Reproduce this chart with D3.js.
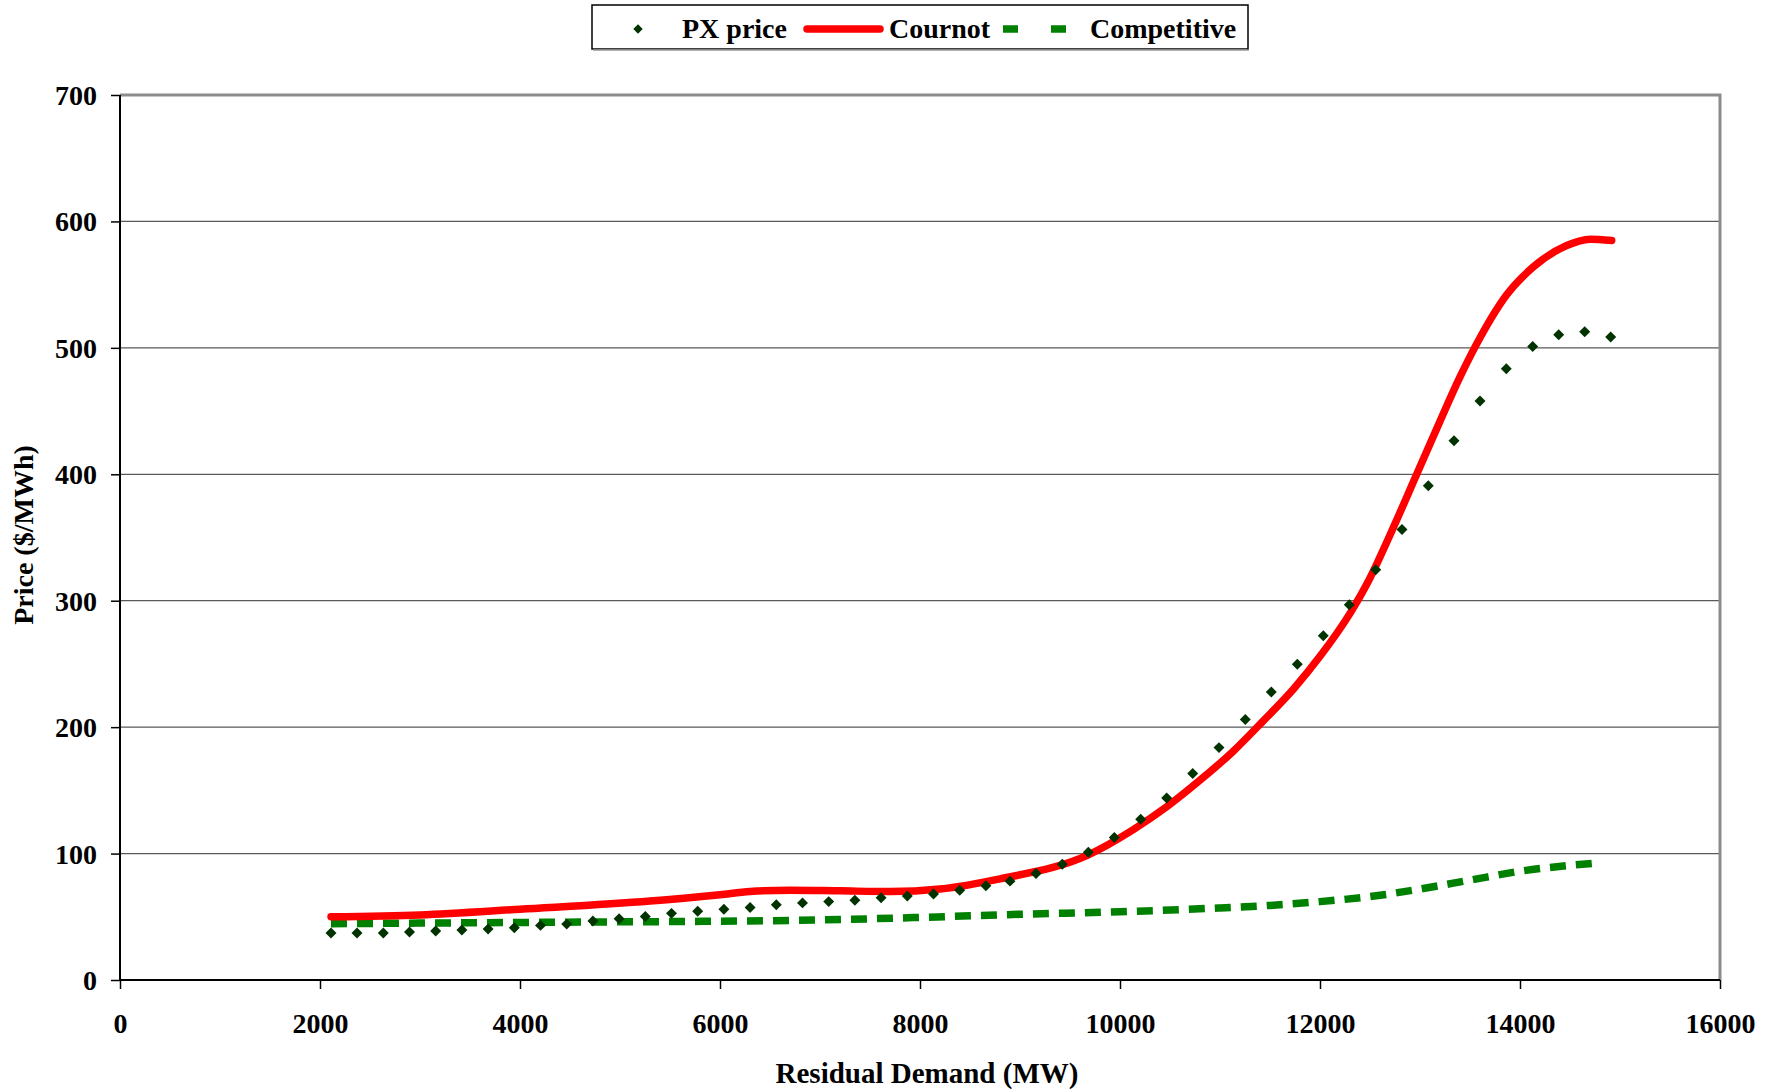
<!DOCTYPE html>
<html><head><meta charset="utf-8">
<script src="https://cdn.jsdelivr.net/npm/d3@7/dist/d3.min.js"></script>
<style>body{margin:0;background:#fff}svg{display:block}</style>
</head><body><svg id="c" width="1780" height="1091"></svg>
<script>
// ---- data ----
const pxDemand = [2110,2370,2633,2895,3157,3419,3681,3943,4205,4467,4729,4991,5253,5515,5777,6039,6301,6563,6825,7087,7349,7611,7873,8135,8397,8659,8900,9160,9423,9683,9943,10207,10467,10727,10990,11253,11513,11773,12033,12293,12557,12820,13083,13340,13600,13863,14127,14387,14647,14907];
const pxPrice = [37.1,37.1,37.1,37.9,38.7,39.5,40.3,41.3,43.2,44.2,46.6,48.5,50.3,52.7,54.3,55.9,57.4,59.5,61,62,63,65,66.5,68,71,74.6,78.2,84.3,91.6,101.1,112.7,127.2,144,163.3,183.8,206,227.8,249.7,272.3,296.8,324.5,356.3,391,426.6,458,483.5,501,510.4,512.8,508.6];
const cournotDemand = [2110,3000,4000,5300,6000,6300,6700,7200,7700,8200,8800,9683,10133,10467,10800,11133,11433,11733,12000,12300,12500,12700,12967,13200,13400,13600,13867,14133,14467,14700,14917];
const cournotPrice = [50,51.5,56,62.4,67.5,70,71,70.5,70,72,80,99,119,137,158,181,205,230,256,290,318,352,400,442,477,508,542,564,581,586,585];
const compDemand = [2110,3000,4000,5000,6000,7000,8000,9000,10000,11000,11500,12000,12600,13000,13500,14000,14760];
const compPrice = [44.5,45,45.5,46,46.5,47.5,49.5,52,54,57,59,62,67,72,79,86,92.5];
const xTicks = [0,2000,4000,6000,8000,10000,12000,14000,16000];
const yTicks = [0,100,200,300,400,500,600,700];
const seriesNames = ["PX price","Cournot","Competitive"];

// ---- layout ----
const svg = d3.select("#c");
const L = 120, R = 1720, T = 95, B = 980;
const x = d3.scaleLinear().domain([0,16000]).range([L,R]);
const y = d3.scaleLinear().domain([0,700]).range([B,T]);
const FONT = "'Liberation Serif','Times New Roman',serif";

// gridlines
svg.append("g").selectAll("line").data(yTicks.filter(d=>d>0 && d<700)).join("line")
  .attr("x1",L).attr("x2",R).attr("y1",d=>y(d)).attr("y2",d=>y(d))
  .attr("stroke","#5a5a5a").attr("stroke-width",1.3);
// top and right border
svg.append("path").attr("d",`M${L},${T}H${R}V${B}`).attr("fill","none")
  .attr("stroke","#8c8c8c").attr("stroke-width",3);

// axes
const xAxis = svg.append("g").attr("transform",`translate(0,${B})`)
  .call(d3.axisBottom(x).tickValues(xTicks).tickSize(9).tickPadding(14).tickFormat(d3.format("d")));
const yAxis = svg.append("g").attr("transform",`translate(${L},0)`)
  .call(d3.axisLeft(y).tickValues(yTicks).tickSize(9).tickPadding(14).tickFormat(d3.format("d")));
[xAxis,yAxis].forEach(g=>{
  g.select(".domain").attr("stroke","#000").attr("stroke-width",2);
  g.selectAll(".tick line").attr("stroke","#000").attr("stroke-width",1.5);
  g.selectAll("text").attr("font-family",FONT).attr("font-weight","bold").attr("font-size",28).attr("fill","#000");
});
yAxis.select(".domain").attr("d",`M0,${B}V${T}`);
xAxis.select(".domain").attr("d",`M${L},0H${R}`);
yAxis.selectAll(".tick text").attr("x",-23).attr("dy","0.34em");
xAxis.selectAll(".tick text").attr("dy",0).attr("y",53);

// series
const comp = compDemand.map((d,i)=>[d,compPrice[i]]);
const cour = cournotDemand.map((d,i)=>[d,cournotPrice[i]]);
const px = pxDemand.map((d,i)=>[d,pxPrice[i]]);
const line = d3.line().x(d=>x(d[0])).y(d=>y(d[1])).curve(d3.curveMonotoneX);

svg.append("path").datum(comp).attr("d",line).attr("fill","none")
  .attr("stroke","#008000").attr("stroke-width",7.5).attr("stroke-dasharray","16,10");
svg.append("path").datum(cour).attr("d",line).attr("fill","none")
  .attr("stroke","#ff0000").attr("stroke-width",7.5).attr("stroke-linecap","round").attr("stroke-linejoin","round");
const diamond = d3.symbol().type(d3.symbolSquare).size(60);
svg.append("g").selectAll("path").data(px).join("path")
  .attr("d",diamond)
  .attr("transform",d=>`translate(${x(d[0])},${y(d[1])}) rotate(45)`)
  .attr("fill","#003300");

// axis titles
svg.append("text").attr("x",927).attr("y",1083).attr("text-anchor","middle")
  .attr("font-family",FONT).attr("font-weight","bold").attr("font-size",29)
  .text("Residual Demand (MW)");
svg.append("text").attr("transform","translate(33,535) rotate(-90)").attr("text-anchor","middle")
  .attr("font-family",FONT).attr("font-weight","bold").attr("font-size",28)
  .text("Price ($/MWh)");

// legend
const lg = svg.append("g");
lg.append("rect").attr("x",592).attr("y",5).attr("width",656).attr("height",44)
  .attr("fill","#fff").attr("stroke","#000").attr("stroke-width",1.5);
lg.append("line").attr("x1",593).attr("x2",1249).attr("y1",50).attr("y2",50).attr("stroke","#999").attr("stroke-width",1.5);
lg.append("path").attr("d",d3.symbol().type(d3.symbolSquare).size(44))
  .attr("transform","translate(638,29) rotate(45)").attr("fill","#003300");
lg.append("line").attr("x1",807).attr("x2",880).attr("y1",29).attr("y2",29)
  .attr("stroke","#ff0000").attr("stroke-width",7.5).attr("stroke-linecap","round");
lg.append("line").attr("x1",1003).attr("x2",1066).attr("y1",29).attr("y2",29)
  .attr("stroke","#008000").attr("stroke-width",7.5).attr("stroke-dasharray","15,33");
const lt = [[682,seriesNames[0]],[889,seriesNames[1]],[1090,seriesNames[2]]];
lg.selectAll("text.l").data(lt).join("text").attr("class","l")
  .attr("x",d=>d[0]).attr("y",38).attr("font-family",FONT).attr("font-weight","bold").attr("font-size",28)
  .text(d=>d[1]);
</script></body></html>
